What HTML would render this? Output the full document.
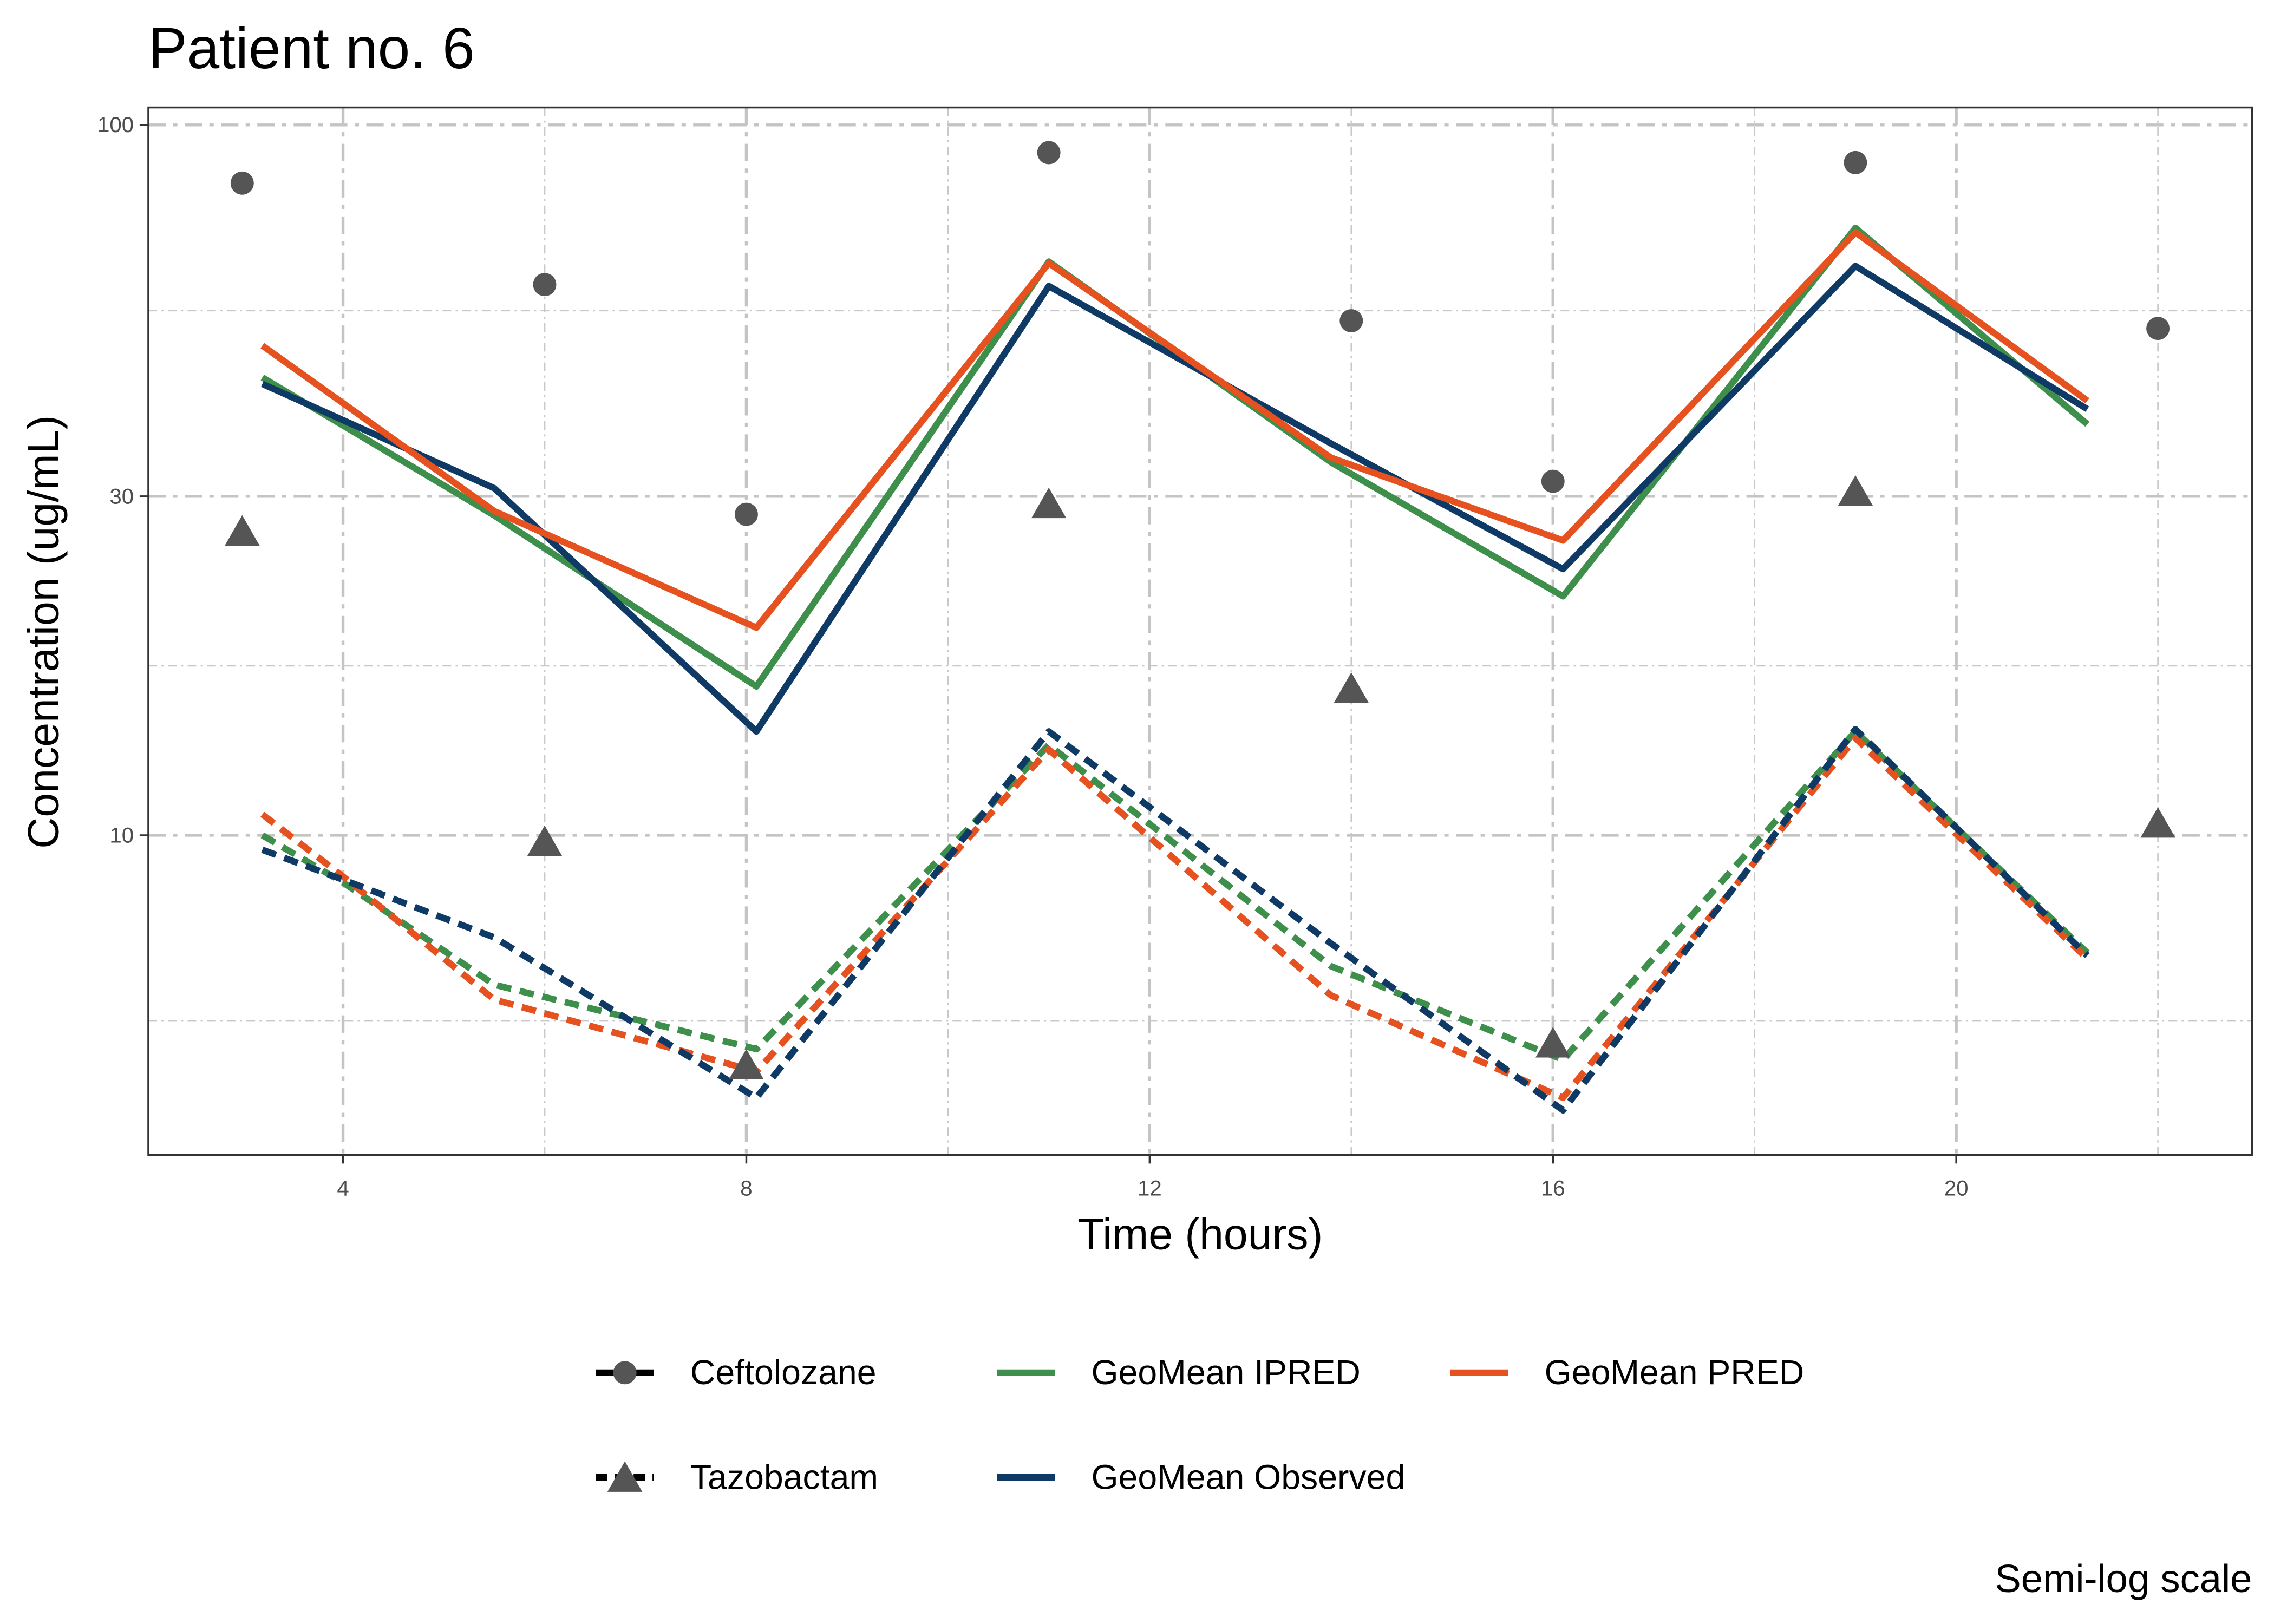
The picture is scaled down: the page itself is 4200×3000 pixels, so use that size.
<!DOCTYPE html>
<html><head><meta charset="utf-8"><style>
html,body{margin:0;padding:0;background:#fff}
svg{display:block;font-family:"Liberation Sans",Arial,sans-serif}
</style></head><body>
<svg id="chart" width="4200" height="3000" viewBox="0 0 1565 1118" xmlns="http://www.w3.org/2000/svg">
<rect x="0" y="0" width="1565" height="1118" fill="#fff"/>
<text x="102" y="47" font-size="40" fill="#000">Patient no. 6</text>
<g id="grid"></g>
<g id="series"></g>
<rect x="102" y="74" width="1448" height="721" fill="none" stroke="#333" stroke-width="1.3"/>
<g id="axes"></g>
<text x="826" y="860" font-size="30" text-anchor="middle">Time (hours)</text>
<text transform="translate(40,435) rotate(-90)" font-size="30" text-anchor="middle">Concentration (ug/mL)</text>
<g id="legend"></g>
<text x="1550" y="1096" font-size="27" text-anchor="end">Semi-log scale</text>
</svg>
<script>
const xMajor=[4,8,12,16,20];
const xMinor=[6,10,14,18,22];
const yMajor=[10,30,100];
const yMinorLog=[Math.sqrt(10*3),Math.sqrt(30*10)*1,Math.sqrt(30*100)];
const obsTimes=[3,6,8,11,14,16,19,22];
const ceftObs=[82.8,59.6,28.3,91.4,53,31.5,88.5,51.7];
const tazoObs=[26.8,9.8,4.75,29.3,16.1,5.1,30.5,10.4];
const lineTimes=[3.2,5.5,8.1,11,13.8,16.1,19,21.3];
const ceftIpred=[44.1,28.2,16.2,64.2,33.5,21.7,71.6,37.9];
const ceftObsGeo=[43.2,30.8,14.0,59.3,35.6,23.7,63.3,39.8];
const ceftPred=[48.9,28.6,19.6,63.9,34.0,26.0,70.6,40.9];
const tazoTimes=[3.2,4,5.5,8.1,11,13.8,16.1,19,21.3];
const tazoIpred=[10.0,8.58,6.16,5.0,13.4,6.54,4.83,14.0,6.83];
const tazoObsGeo=[9.54,8.66,7.18,4.27,14.0,7.04,4.10,14.1,6.77];
const tazoPred=[10.7,8.75,5.87,4.65,13.2,5.95,4.27,13.7,6.7];
const NS="http://www.w3.org/2000/svg";
const X=t=>236+(t-4)*69.4;
const Y=c=>86+(2-Math.log10(c))*489;
function mk(tag,parent,attrs){const e=document.createElementNS(NS,tag);for(const k in attrs)e.setAttribute(k,attrs[k]);parent.appendChild(e);return e;}
const grid=document.getElementById('grid'),axes=document.getElementById('axes'),ser=document.getElementById('series'),leg=document.getElementById('legend');
xMinor.forEach(t=>{const l=mk('line',grid,{x1:X(t),x2:X(t),y1:74,y2:795,stroke:'#c8c8c8','stroke-width':1,'stroke-dasharray':'6 3 1.5 3'});

});
yMinorLog.forEach(c=>{const l=mk('line',grid,{x1:102,x2:1550,y1:Y(c),y2:Y(c),stroke:'#c8c8c8','stroke-width':1,'stroke-dasharray':'6 3 1.5 3'});

});
xMajor.forEach(t=>{const l=mk('line',grid,{x1:X(t),x2:X(t),y1:74,y2:795,stroke:'#c4c4c4','stroke-width':2,'stroke-dasharray':'12 5 3 5'});


mk('line',axes,{x1:X(t),x2:X(t),y1:795,y2:801,stroke:'#333','stroke-width':1.3});
const tx=mk('text',axes,{x:X(t),y:823,'font-size':15,'text-anchor':'middle',fill:'#4d4d4d'});tx.textContent=t;

});
yMajor.forEach(c=>{const l=mk('line',grid,{x1:102,x2:1550,y1:Y(c),y2:Y(c),stroke:'#c4c4c4','stroke-width':2,'stroke-dasharray':'12 5 3 5'});


mk('line',axes,{x1:96,x2:102,y1:Y(c),y2:Y(c),stroke:'#333','stroke-width':1.3});
const tx=mk('text',axes,{x:92,y:Y(c)+5,'font-size':15,'text-anchor':'end',fill:'#4d4d4d'});tx.textContent=c;

});
const GREEN='#3e8f4b',BLUE='#0f3a66',ORANGE='#e5511f';
function line(ts,vs,col,dash,name){const p=mk('polyline',ser,{points:ts.map((t,i)=>X(t)+','+Y(vs[i])).join(' '),fill:'none',stroke:col,'stroke-width':4.5,'stroke-dasharray':dash||'none','stroke-linejoin':'round'});

}
line(tazoTimes,tazoIpred,GREEN,'10 6','tazo-ipred-line');
line(tazoTimes,tazoPred,ORANGE,'10 6','tazo-pred-line');
line(tazoTimes,tazoObsGeo,BLUE,'10 6','tazo-observed-line');
line(lineTimes,ceftIpred,GREEN,null,'ceft-ipred-line');
line(lineTimes,ceftObsGeo,BLUE,null,'ceft-observed-line');
line(lineTimes,ceftPred,ORANGE,null,'ceft-pred-line');
obsTimes.forEach((t,i)=>{const c=mk('circle',ser,{cx:X(t),cy:Y(ceftObs[i]),r:8,fill:'#555'});


const x=X(t),y=Y(tazoObs[i]);
const tr=mk('polygon',ser,{points:`${x},${y-11} ${x-12},${y+10} ${x+12},${y+10}`,fill:'#555'});

});
const legItems=[
['Ceftolozane',410,945,'#000',null,'circle'],
['Tazobactam',410,1017,'#000','8 5','tri'],
['GeoMean IPRED',686,945,GREEN,null,null],
['GeoMean Observed',686,1017,BLUE,null,null],
['GeoMean PRED',998,945,ORANGE,null,null]];
legItems.forEach(it=>{const g=mk('g',leg,{});


mk('line',g,{x1:it[1],x2:it[1]+40,y1:it[2],y2:it[2],stroke:it[3],'stroke-width':4.5,'stroke-dasharray':it[4]||'none'});
const cx=it[1]+20,cy=it[2];
if(it[5]==='circle')mk('circle',g,{cx:cx,cy:cy,r:8,fill:'#555'});
if(it[5]==='tri')mk('polygon',g,{points:`${cx},${cy-11} ${cx-12},${cy+10} ${cx+12},${cy+10}`,fill:'#555'});
const tx=mk('text',g,{x:it[1]+65,y:it[2]+8,'font-size':24});tx.textContent=it[0];});
</script>
</body></html>
